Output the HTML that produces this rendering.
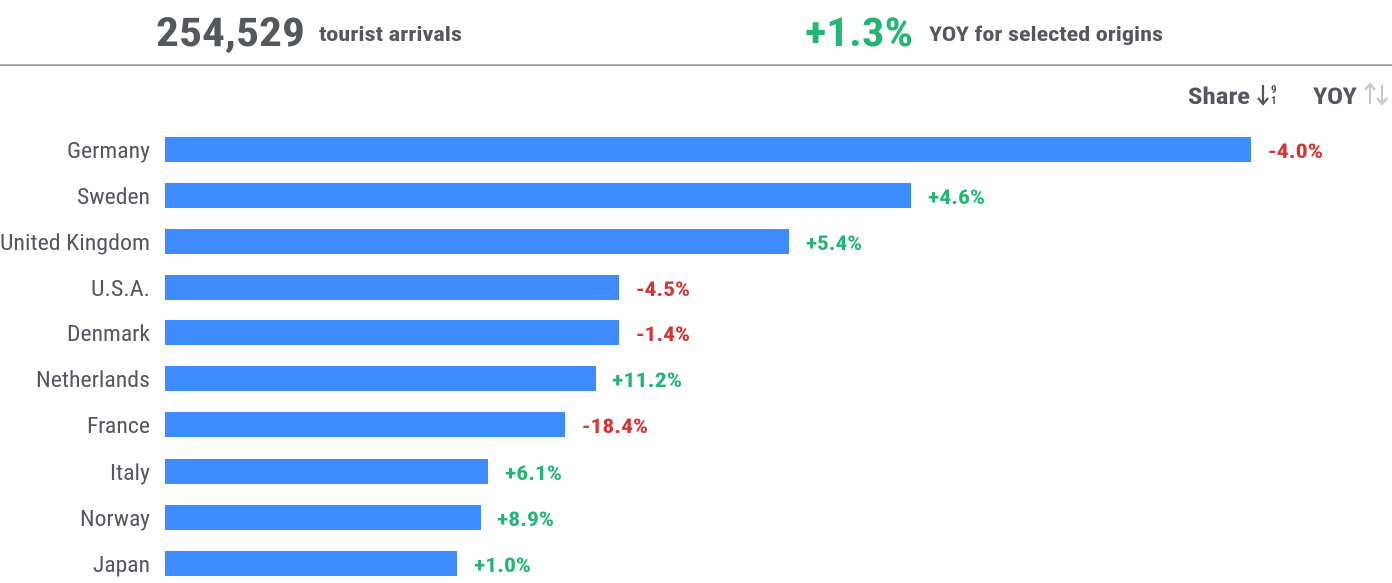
<!DOCTYPE html>
<html><head><meta charset="utf-8"><style>
html,body{margin:0;padding:0;background:#fff;width:1392px;height:583px;overflow:hidden}
svg{display:block}
text{font-family:"Roboto Condensed","Liberation Sans",sans-serif}
</style></head><body>
<svg width="1392" height="583" viewBox="0 0 1392 583" xmlns="http://www.w3.org/2000/svg">
<g fill="#55575f" font-weight="bold">
<text x="156" y="46" font-size="40" textLength="149" lengthAdjust="spacingAndGlyphs">254,529</text>
<text x="319" y="41" font-size="20" textLength="143" lengthAdjust="spacingAndGlyphs">tourist arrivals</text>
<text x="929" y="41" font-size="20" textLength="234" lengthAdjust="spacingAndGlyphs">YOY for selected origins</text>
<text x="1188" y="104" font-size="23" textLength="62" lengthAdjust="spacingAndGlyphs">Share</text>
<text x="1313" y="104" font-size="23" textLength="44" lengthAdjust="spacingAndGlyphs">YOY</text>
</g>
<text x="805" y="46" font-size="40" font-weight="bold" fill="#22b573" textLength="108" lengthAdjust="spacingAndGlyphs">+1.3%</text>
<rect x="0" y="64.5" width="1392" height="1.2" fill="#666"/>
<g fill="none" stroke="#55575f" stroke-width="2.2">
<line x1="1263" y1="85" x2="1263" y2="103"/><polyline points="1258,98 1263,104 1268,98"/>
</g>
<text x="1271" y="93" font-size="11" font-weight="bold" fill="#55575f">9</text>
<text x="1271" y="104" font-size="11" font-weight="bold" fill="#55575f">1</text>
<g fill="none" stroke="#c8c8c8" stroke-width="2.2">
<line x1="1370" y1="85" x2="1370" y2="104"/><polyline points="1365,90 1370,84 1375,90"/>
<line x1="1382" y1="85" x2="1382" y2="104"/><polyline points="1377,98 1382,104 1387,98"/>
</g>
<g fill="#3d8bff">
<rect x="165" y="137" width="1086" height="25"/>
<rect x="165" y="183" width="746" height="25"/>
<rect x="165" y="229" width="624" height="25"/>
<rect x="165" y="275" width="454" height="25"/>
<rect x="165" y="320" width="454" height="25"/>
<rect x="165" y="366" width="431" height="25"/>
<rect x="165" y="412" width="400" height="25"/>
<rect x="165" y="459" width="323" height="25"/>
<rect x="165" y="505" width="316" height="25"/>
<rect x="165" y="551" width="292" height="25"/>
</g>
<g fill="#55575f" font-size="22" text-anchor="end" lengthAdjust="spacingAndGlyphs">
<text x="150" y="158" textLength="83" lengthAdjust="spacingAndGlyphs">Germany</text>
<text x="150" y="204" textLength="73" lengthAdjust="spacingAndGlyphs">Sweden</text>
<text x="150" y="250" textLength="150" lengthAdjust="spacingAndGlyphs">United Kingdom</text>
<text x="150" y="296" textLength="59" lengthAdjust="spacingAndGlyphs">U.S.A.</text>
<text x="150" y="341" textLength="83" lengthAdjust="spacingAndGlyphs">Denmark</text>
<text x="150" y="387" textLength="114" lengthAdjust="spacingAndGlyphs">Netherlands</text>
<text x="150" y="433" textLength="63" lengthAdjust="spacingAndGlyphs">France</text>
<text x="150" y="480" textLength="40" lengthAdjust="spacingAndGlyphs">Italy</text>
<text x="150" y="526" textLength="70" lengthAdjust="spacingAndGlyphs">Norway</text>
<text x="150" y="572" textLength="57" lengthAdjust="spacingAndGlyphs">Japan</text>
</g>
<g font-size="20" font-weight="bold">
<text x="1268" y="158" fill="#d63333" textLength="55" lengthAdjust="spacingAndGlyphs">-4.0%</text>
<text x="928" y="204" fill="#22b573" textLength="57" lengthAdjust="spacingAndGlyphs">+4.6%</text>
<text x="806" y="250" fill="#22b573" textLength="56" lengthAdjust="spacingAndGlyphs">+5.4%</text>
<text x="636" y="296" fill="#d63333" textLength="54" lengthAdjust="spacingAndGlyphs">-4.5%</text>
<text x="636" y="341" fill="#d63333" textLength="54" lengthAdjust="spacingAndGlyphs">-1.4%</text>
<text x="612" y="387" fill="#22b573" textLength="70" lengthAdjust="spacingAndGlyphs">+11.2%</text>
<text x="582" y="433" fill="#d63333" textLength="66" lengthAdjust="spacingAndGlyphs">-18.4%</text>
<text x="505" y="480" fill="#22b573" textLength="57" lengthAdjust="spacingAndGlyphs">+6.1%</text>
<text x="497" y="526" fill="#22b573" textLength="57" lengthAdjust="spacingAndGlyphs">+8.9%</text>
<text x="474" y="572" fill="#22b573" textLength="57" lengthAdjust="spacingAndGlyphs">+1.0%</text>
</g>
</svg>
</body></html>
